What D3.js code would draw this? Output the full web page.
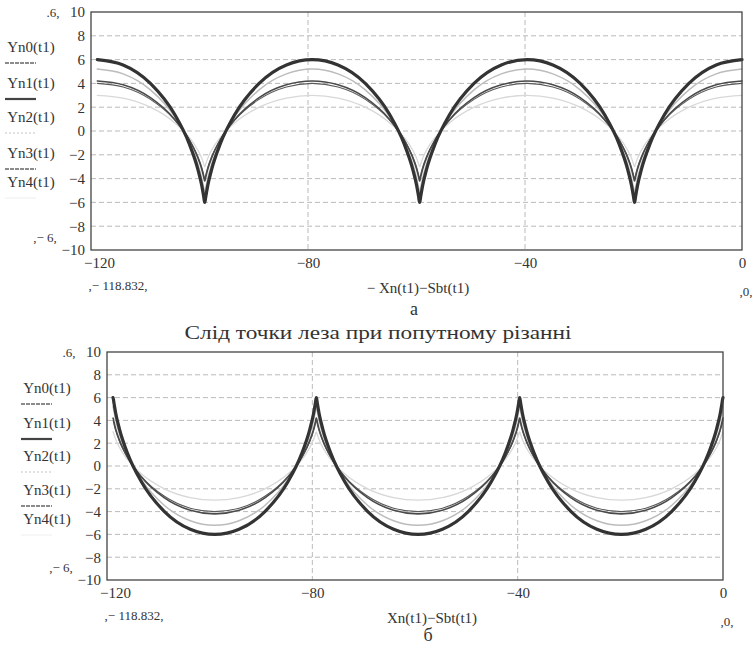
<!DOCTYPE html>
<meta charset="utf-8">
<style>
body { margin: 0; background: #fff; }
svg text { font-family: 'Liberation Serif', serif; fill: #333; }
.grid line { stroke: #a8a8a8; stroke-width: .8; stroke-dasharray: 5,3; }
.frame { fill: none; stroke: #444; stroke-width: 1.3; }
.curve { fill: none; stroke-linejoin: round; stroke-linecap: round; }
</style>
<body>
<svg width="755" height="648"></svg>
<script src="https://d3js.org/d3.v7.min.js"></script>
<script>

var xTicks = [-120, -80, -40, 0];
var yTicks = [-10, -8, -6, -4, -2, 0, 2, 4, 6, 8, 10];
var gridX = [-80, -40];
var gridY = [-8, -6, -4, -2, 0, 2, 4, 6, 8];
var traceNames = ["Yn0(t1)", "Yn1(t1)", "Yn2(t1)", "Yn3(t1)", "Yn4(t1)"];

// panel a: x = Xn(t1)-Sbt(t1), peaks at both ends
var xA = [-118.83, -114.08, -109.05, -104.53, -101.94, -100.29, -99.58, -99.22, -99.10, -99.03, -98.96, -98.84, -98.48, -97.77, -96.12, -93.53, -89.01, -83.98, -79.22,
  -74.47, -69.44, -64.92, -62.33, -60.68, -59.97, -59.61, -59.49, -59.42, -59.35, -59.23, -58.87, -58.16, -56.51, -53.92, -49.40, -44.37, -39.61,
  -34.86, -29.83, -25.31, -22.72, -21.07, -20.36, -20.00, -19.88, -19.81, -19.74, -19.62, -19.26, -18.55, -16.90, -14.31, -9.79, -4.76, 0];
var yn0A = [4.2, 3.88, 2.80, 0.95, -0.71, -2.27, -3.21, -3.87, -4.12, -4.2, -4.12, -3.87, -3.21, -2.27, -0.71, 0.95, 2.80, 3.88, 4.2,
  3.88, 2.80, 0.95, -0.71, -2.27, -3.21, -3.87, -4.12, -4.2, -4.12, -3.87, -3.21, -2.27, -0.71, 0.95, 2.80, 3.88, 4.2,
  3.88, 2.80, 0.95, -0.71, -2.27, -3.21, -3.87, -4.12, -4.2, -4.12, -3.87, -3.21, -2.27, -0.71, 0.95, 2.80, 3.88, 4.2];
var yn1A = [6, 5.55, 4.00, 1.36, -1.02, -3.24, -4.59, -5.53, -5.88, -6, -5.88, -5.53, -4.59, -3.24, -1.02, 1.36, 4.00, 5.55, 6,
  5.55, 4.00, 1.36, -1.02, -3.24, -4.59, -5.53, -5.88, -6, -5.88, -5.53, -4.59, -3.24, -1.02, 1.36, 4.00, 5.55, 6,
  5.55, 4.00, 1.36, -1.02, -3.24, -4.59, -5.53, -5.88, -6, -5.88, -5.53, -4.59, -3.24, -1.02, 1.36, 4.00, 5.55, 6];
var yn2A = [5.2, 4.80, 3.46, 1.18, -0.88, -2.81, -3.98, -4.79, -5.10, -5.2, -5.10, -4.79, -3.98, -2.81, -0.88, 1.18, 3.46, 4.80, 5.2,
  4.80, 3.46, 1.18, -0.88, -2.81, -3.98, -4.79, -5.10, -5.2, -5.10, -4.79, -3.98, -2.81, -0.88, 1.18, 3.46, 4.80, 5.2,
  4.80, 3.46, 1.18, -0.88, -2.81, -3.98, -4.79, -5.10, -5.2, -5.10, -4.79, -3.98, -2.81, -0.88, 1.18, 3.46, 4.80, 5.2];
var yn3A = [4.0, 3.70, 2.66, 0.91, -0.68, -2.16, -3.06, -3.68, -3.92, -4.0, -3.92, -3.68, -3.06, -2.16, -0.68, 0.91, 2.66, 3.70, 4.0,
  3.70, 2.66, 0.91, -0.68, -2.16, -3.06, -3.68, -3.92, -4.0, -3.92, -3.68, -3.06, -2.16, -0.68, 0.91, 2.66, 3.70, 4.0,
  3.70, 2.66, 0.91, -0.68, -2.16, -3.06, -3.68, -3.92, -4.0, -3.92, -3.68, -3.06, -2.16, -0.68, 0.91, 2.66, 3.70, 4.0];
var yn4A = [3.0, 2.77, 2.00, 0.68, -0.51, -1.62, -2.30, -2.76, -2.94, -3.0, -2.94, -2.76, -2.30, -1.62, -0.51, 0.68, 2.00, 2.77, 3.0,
  2.77, 2.00, 0.68, -0.51, -1.62, -2.30, -2.76, -2.94, -3.0, -2.94, -2.76, -2.30, -1.62, -0.51, 0.68, 2.00, 2.77, 3.0,
  2.77, 2.00, 0.68, -0.51, -1.62, -2.30, -2.76, -2.94, -3.0, -2.94, -2.76, -2.30, -1.62, -0.51, 0.68, 2.00, 2.77, 3.0];

// panel b: cusps at both ends
var xB = [-118.83, -118.76, -118.64, -118.28, -117.57, -115.92, -113.33, -108.81, -103.78, -99.02, -94.27, -89.24, -84.72, -82.13, -80.48, -79.77, -79.41, -79.29, -79.22,
  -79.15, -79.03, -78.67, -77.96, -76.31, -73.72, -69.20, -64.17, -59.41, -54.66, -49.63, -45.11, -42.52, -40.87, -40.16, -39.80, -39.68, -39.61,
  -39.54, -39.42, -39.06, -38.35, -36.70, -34.11, -29.59, -24.56, -19.80, -15.05, -10.02, -5.50, -2.91, -1.26, -0.55, -0.19, -0.07, 0];
var yn0B = [4.2, 4.12, 3.87, 3.21, 2.27, 0.71, -0.95, -2.80, -3.88, -4.2, -3.88, -2.80, -0.95, 0.71, 2.27, 3.21, 3.87, 4.12, 4.2,
  4.12, 3.87, 3.21, 2.27, 0.71, -0.95, -2.80, -3.88, -4.2, -3.88, -2.80, -0.95, 0.71, 2.27, 3.21, 3.87, 4.12, 4.2,
  4.12, 3.87, 3.21, 2.27, 0.71, -0.95, -2.80, -3.88, -4.2, -3.88, -2.80, -0.95, 0.71, 2.27, 3.21, 3.87, 4.12, 4.2];
var yn1B = [6, 5.88, 5.53, 4.59, 3.24, 1.02, -1.36, -4.00, -5.55, -6, -5.55, -4.00, -1.36, 1.02, 3.24, 4.59, 5.53, 5.88, 6,
  5.88, 5.53, 4.59, 3.24, 1.02, -1.36, -4.00, -5.55, -6, -5.55, -4.00, -1.36, 1.02, 3.24, 4.59, 5.53, 5.88, 6,
  5.88, 5.53, 4.59, 3.24, 1.02, -1.36, -4.00, -5.55, -6, -5.55, -4.00, -1.36, 1.02, 3.24, 4.59, 5.53, 5.88, 6];
var yn2B = [5.2, 5.10, 4.79, 3.98, 2.81, 0.88, -1.18, -3.46, -4.80, -5.2, -4.80, -3.46, -1.18, 0.88, 2.81, 3.98, 4.79, 5.10, 5.2,
  5.10, 4.79, 3.98, 2.81, 0.88, -1.18, -3.46, -4.80, -5.2, -4.80, -3.46, -1.18, 0.88, 2.81, 3.98, 4.79, 5.10, 5.2,
  5.10, 4.79, 3.98, 2.81, 0.88, -1.18, -3.46, -4.80, -5.2, -4.80, -3.46, -1.18, 0.88, 2.81, 3.98, 4.79, 5.10, 5.2];
var yn3B = [4.0, 3.92, 3.68, 3.06, 2.16, 0.68, -0.91, -2.66, -3.70, -4.0, -3.70, -2.66, -0.91, 0.68, 2.16, 3.06, 3.68, 3.92, 4.0,
  3.92, 3.68, 3.06, 2.16, 0.68, -0.91, -2.66, -3.70, -4.0, -3.70, -2.66, -0.91, 0.68, 2.16, 3.06, 3.68, 3.92, 4.0,
  3.92, 3.68, 3.06, 2.16, 0.68, -0.91, -2.66, -3.70, -4.0, -3.70, -2.66, -0.91, 0.68, 2.16, 3.06, 3.68, 3.92, 4.0];
var yn4B = [3.0, 2.94, 2.76, 2.30, 1.62, 0.51, -0.68, -2.00, -2.77, -3.0, -2.77, -2.00, -0.68, 0.51, 1.62, 2.30, 2.76, 2.94, 3.0,
  2.94, 2.76, 2.30, 1.62, 0.51, -0.68, -2.00, -2.77, -3.0, -2.77, -2.00, -0.68, 0.51, 1.62, 2.30, 2.76, 2.94, 3.0,
  2.94, 2.76, 2.30, 1.62, 0.51, -0.68, -2.00, -2.77, -3.0, -2.77, -2.00, -0.68, 0.51, 1.62, 2.30, 2.76, 2.94, 3.0];

var title = "Слід точки леза при попутному різанні";

// trace look, same order as traceNames
var traceStyle = [
  {color: "#4a4a4a", width: 1.6},
  {color: "#333333", width: 3.2},
  {color: "#bcbcbc", width: 1.5},
  {color: "#5a5a5a", width: 1.1},
  {color: "#d8d8d8", width: 1.3}
];
var legendStyle = [
  {color: "#666", width: 1.4, dash: "4,1"},
  {color: "#444", width: 2.2, dash: null},
  {color: "#c4c4c4", width: 1.2, dash: "2,2"},
  {color: "#666", width: 1.4, dash: "4,1"},
  {color: "#eee", width: 1, dash: null}
];
var drawOrder = [4, 2, 3, 0, 1];
var serif = "'Liberation Serif', 'Times New Roman', serif";

var svg = d3.select("svg");

function panel(p) {
  var x = d3.scaleLinear().domain([-120, 0]).range([p.left, p.right]);
  var y = d3.scaleLinear().domain([-10, 10]).range([p.bottom, p.top]);
  var g = svg.append("g").attr("font-family", serif);

  var grid = g.append("g").attr("class", "grid");
  grid.selectAll(".gy").data(gridY).enter().append("line")
    .attr("x1", p.left).attr("x2", p.right)
    .attr("y1", function(d) { return y(d); }).attr("y2", function(d) { return y(d); });
  grid.selectAll(".gx").data(gridX).enter().append("line")
    .attr("y1", p.top).attr("y2", p.bottom)
    .attr("x1", function(d) { return x(d); }).attr("x2", function(d) { return x(d); });

  var line = d3.line()
    .x(function(d) { return x(d[0]); })
    .y(function(d) { return y(d[1]); })
    .curve(d3.curveMonotoneX);

  drawOrder.forEach(function(i) {
    var pts = p.xs.map(function(v, k) { return [v, p.ys[i][k]]; });
    g.append("path").attr("class", "curve")
      .attr("d", line(pts))
      .attr("stroke", traceStyle[i].color)
      .attr("stroke-width", traceStyle[i].width);
  });

  g.append("rect").attr("class", "frame")
    .attr("x", p.left).attr("y", p.top)
    .attr("width", p.right - p.left).attr("height", p.bottom - p.top);

  var yAxis = g.append("g")
    .attr("transform", "translate(" + p.left + ",0)")
    .call(d3.axisLeft(y).tickValues(yTicks).tickSize(0).tickPadding(6));
  yAxis.attr("font-family", serif).attr("font-size", 15);
  yAxis.select(".domain").remove();
  yAxis.selectAll("text").attr("fill", "#333");

  var xAxis = g.append("g")
    .attr("transform", "translate(0," + p.bottom + ")")
    .call(d3.axisBottom(x).tickValues(xTicks).tickSize(0).tickPadding(7));
  xAxis.attr("font-family", serif).attr("font-size", 15);
  xAxis.select(".domain").remove();
  xAxis.selectAll("text").attr("fill", "#333")
    .attr("dx", function(d) { return d === -120 ? 8 : 0; });

  // trace labels with their sample lines
  traceNames.forEach(function(n, i) {
    var ly = p.top + p.legendDy[i];
    g.append("text").attr("x", p.left - 60).attr("y", ly)
      .attr("text-anchor", "middle").attr("dominant-baseline", "central")
      .attr("font-size", 15).text(n);
    g.append("line")
      .attr("x1", p.left - 86).attr("x2", p.left - 55)
      .attr("y1", ly + 16).attr("y2", ly + 16)
      .attr("stroke", legendStyle[i].color)
      .attr("stroke-width", legendStyle[i].width)
      .attr("stroke-dasharray", legendStyle[i].dash);
  });

  g.append("text").attr("x", p.left - 38).attr("y", p.top + 5)
    .attr("text-anchor", "middle").attr("font-size", 13).text(".6,");
  g.append("text").attr("x", p.left - 46).attr("y", p.bottom - 8)
    .attr("text-anchor", "middle").attr("font-size", 13).text(",\u2212 6,");
  g.append("text").attr("x", p.left + 27).attr("y", p.bottom + 40)
    .attr("text-anchor", "middle").attr("font-size", 13).text(",\u2212 118.832,");
  g.append("text").attr("x", p.right + 4).attr("y", p.bottom + 46)
    .attr("text-anchor", "middle").attr("font-size", 13).text(",0,");
  g.append("text").attr("x", p.labelX).attr("y", p.bottom + 43)
    .attr("text-anchor", "middle").attr("font-size", 15).text(p.xLabel);
  g.append("text").attr("x", p.labelX - 4).attr("y", p.bottom + p.letterDy)
    .attr("text-anchor", "middle").attr("font-size", 18).attr("fill", "#555").text(p.letter);
}

panel({left: 91, right: 742, top: 12, bottom: 250,
  xs: xA, ys: [yn0A, yn1A, yn2A, yn3A, yn4A],
  legendDy: [35, 71, 105, 141, 170],
  xLabel: "\u2212 Xn(t1)\u2212Sbt(t1)", labelX: 418, letter: "а", letterDy: 65});

svg.append("text").attr("x", 378).attr("y", 339)
  .attr("text-anchor", "middle").attr("font-family", serif).attr("font-size", 19)
  .attr("textLength", 387).attr("lengthAdjust", "spacingAndGlyphs")
  .attr("fill", "#111").text(title);

panel({left: 107, right: 723, top: 352, bottom: 580,
  xs: xB, ys: [yn0B, yn1B, yn2B, yn3B, yn4B],
  legendDy: [36, 71, 104, 138, 167],
  xLabel: "Xn(t1)\u2212Sbt(t1)", labelX: 432, letter: "б", letterDy: 61});

</script>
</body>
